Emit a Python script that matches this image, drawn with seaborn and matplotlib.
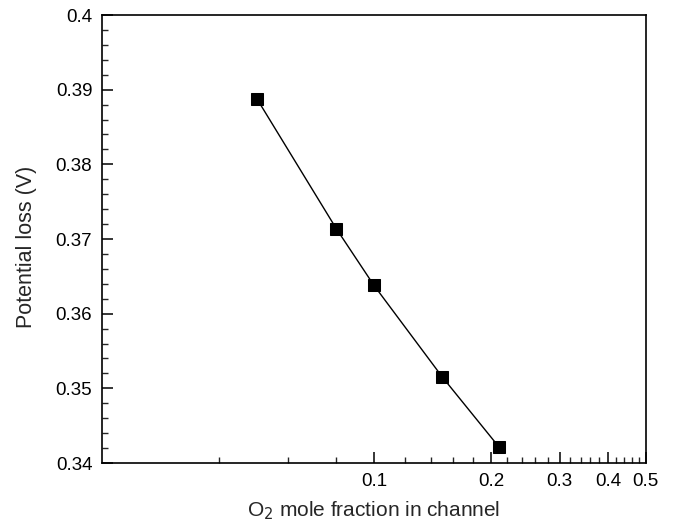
import numpy as np
import pandas as pd
import seaborn as sns
import matplotlib.pyplot as plt
from matplotlib.ticker import FixedLocator, NullFormatter, MultipleLocator

# values
o2_fraction = [0.05, 0.08, 0.10, 0.15, 0.21]
potential_loss = [0.3888, 0.3714, 0.3638, 0.3515, 0.3421]

x_major = [0.1, 0.2, 0.3, 0.4, 0.5]
x_labels = ["0.1", "0.2", "0.3", "0.4", "0.5"]
x_minor = [0.04, 0.06, 0.08, 0.12, 0.14, 0.16, 0.18, 0.22, 0.24, 0.26, 0.28,
           0.32, 0.34, 0.36, 0.38, 0.42, 0.44, 0.46, 0.48]
y_major = [0.34, 0.35, 0.36, 0.37, 0.38, 0.39, 0.40]
y_labels = ["0.34", "0.35", "0.36", "0.37", "0.38", "0.39", "0.4"]

data = pd.DataFrame({"x": o2_fraction, "y": potential_loss})

sns.set_theme(style="ticks")
plt.rcParams['font.family'] = ['Liberation Sans', 'DejaVu Sans']

fig = plt.figure(figsize=(6.73, 5.23), dpi=100)
ax = fig.add_axes([0.1516, 0.1147, 0.808, 0.8566])

sns.lineplot(data=data, x="x", y="y", marker="s", markersize=9, color="black",
             linewidth=1.0, markeredgecolor="black", ax=ax)

ax.set_xscale("log")
ax.set_xlim(0.02, 0.5)
ax.set_ylim(0.34, 0.40)

ax.xaxis.set_major_locator(FixedLocator(x_major))
ax.set_xticklabels(x_labels)
ax.xaxis.set_minor_locator(FixedLocator(x_minor))
ax.xaxis.set_minor_formatter(NullFormatter())

ax.set_yticks(y_major)
ax.set_yticklabels(y_labels)
ax.yaxis.set_minor_locator(MultipleLocator(0.002))

ax.tick_params(which="major", direction="in", length=8, width=1.1, labelsize=13.5,
               colors="black", pad=7)
ax.tick_params(which="minor", direction="in", length=4.5, width=1.0)
ax.tick_params(axis="x", which="both", top=False)
ax.tick_params(axis="y", which="both", right=False)

for s in ax.spines.values():
    s.set_linewidth(1.2)
    s.set_color("black")

ax.set_xlabel("O$_2$ mole fraction in channel", fontsize=15, labelpad=7)
ax.set_ylabel("Potential loss (V)", fontsize=15.5)
ax.yaxis.set_label_coords(-0.12, 0.483)

fig.savefig("out.png", dpi=100)
